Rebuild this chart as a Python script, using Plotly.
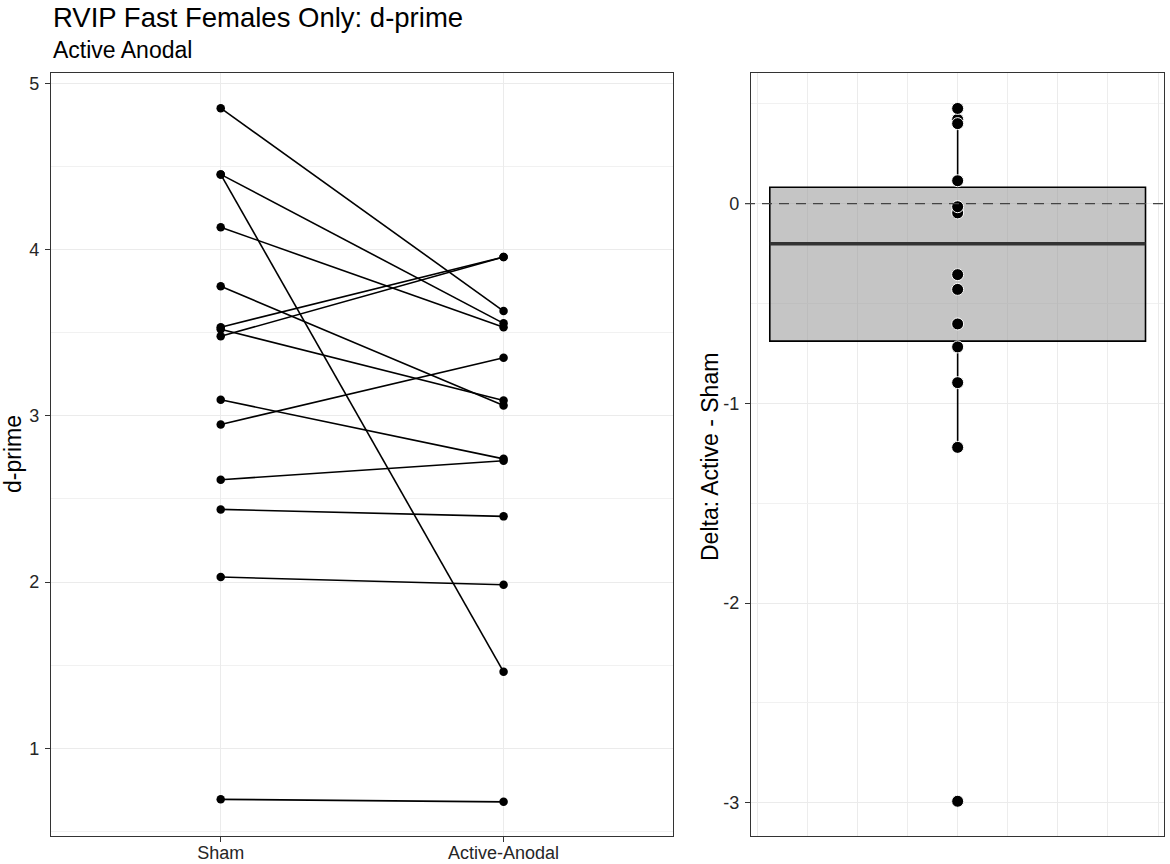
import numpy as np
import plotly.graph_objects as go
from plotly.subplots import make_subplots

# d-prime values, one entry per participant
conditions = ["Sham", "Active-Anodal"]
sham = [4.85, 4.452, 4.452, 4.134, 3.779, 3.533, 3.521, 3.478, 3.096, 2.948, 2.615, 2.437, 2.03, 0.693]
active = [3.63, 1.46, 3.556, 3.532, 3.062, 3.955, 3.092, 3.955, 2.741, 3.349, 2.73, 2.395, 1.984, 0.678]

# tick labels (plain hyphen minus, as in the original)
left_ticks = [1, 2, 3, 4, 5]
left_ticktext = ["1", "2", "3", "4", "5"]
right_ticks = [-3, -2, -1, 0]
right_ticktext = ["-3", "-2", "-1", "0"]

delta = np.array(active) - np.array(sham)

# box stats (ggplot style, type 7 quantiles)
q1, med, q3 = np.percentile(delta, [25, 50, 75])
iqr = q3 - q1
upper = delta[delta <= q3 + 1.5 * iqr].max()
lower = delta[delta >= q1 - 1.5 * iqr].min()
box_x = 1.0
box_w = 0.75

FONT = "Liberation Sans, Arial, sans-serif"
W, H = 1170, 864

fig = make_subplots(rows=1, cols=2)

# left panel: paired lines
for s, a in zip(sham, active):
    fig.add_trace(go.Scatter(x=conditions, y=[s, a], mode='lines+markers',
                             line=dict(color='black', width=1.6),
                             marker=dict(color='black', size=8.5),
                             showlegend=False, hoverinfo='y'), row=1, col=1)

# right panel: box of deltas
fig.add_trace(go.Box(x=[box_x], q1=[q1], median=[med], q3=[q3],
                     lowerfence=[lower], upperfence=[upper],
                     width=box_w, whiskerwidth=0, boxpoints=False,
                     fillcolor='rgba(150,150,150,0.55)',
                     line=dict(color='black', width=1.6),
                     showlegend=False), row=1, col=2)
# thicker median bar like ggplot
fig.add_trace(go.Scatter(x=[box_x - box_w / 2, box_x + box_w / 2], y=[med, med], mode='lines',
                         line=dict(color='#333333', width=3.5),
                         showlegend=False, hoverinfo='skip'), row=1, col=2)
fig.add_trace(go.Scatter(x=[box_x] * len(delta), y=delta, mode='markers',
                         marker=dict(color='black', size=12, line=dict(color='white', width=1)),
                         showlegend=False), row=1, col=2)


# domains from page pixels
def px_x(a, b):
    return [a / W, b / W]


def px_y(top, bottom):
    return [1 - bottom / H, 1 - top / H]


grid = '#EBEBEB'
axis_common = dict(showline=True, mirror=True, linecolor='#333333', linewidth=1.2,
                   zeroline=False, automargin=False, gridcolor=grid, gridwidth=1.2,
                   tickfont=dict(family=FONT, size=18, color='#262626'))

fig.update_xaxes(domain=px_x(51, 673.3), type='category', categoryorder='array',
                 categoryarray=conditions, range=[-0.6, 1.6],
                 ticks='outside', ticklen=5, tickcolor='#333333', showgrid=True,
                 ticklabelstandoff=-5,
                 **axis_common, row=1, col=1)
fig.update_yaxes(domain=px_y(73.3, 836), range=[0.4725, 5.06],
                 tickmode='array', tickvals=left_ticks, ticktext=left_ticktext,
                 ticks='outside', ticklen=5, tickcolor='#333333', showgrid=True,
                 ticklabelstandoff=2,
                 minor=dict(tick0=0.5, dtick=1, showgrid=True, gridcolor='#F1F1F1', gridwidth=0.9),
                 **axis_common, row=1, col=1)

fig.update_xaxes(domain=px_x(751, 1164.3), range=[0.5875, 1.4125], dtick=0.2, tick0=0,
                 showticklabels=False, ticks='', showgrid=True,
                 minor=dict(tick0=0.1, dtick=0.2, showgrid=True, gridcolor='#EDEDED', gridwidth=1.1),
                 **axis_common, row=1, col=2)
fig.update_yaxes(domain=px_y(73.3, 836), range=[-3.166, 0.653],
                 tickmode='array', tickvals=right_ticks, ticktext=right_ticktext,
                 ticks='outside', ticklen=5, tickcolor='#333333', showgrid=True,
                 ticklabelstandoff=2,
                 minor=dict(tick0=0.5, dtick=1, showgrid=True, gridcolor='#F1F1F1', gridwidth=0.9),
                 **axis_common, row=1, col=2)

# dashed reference line at zero (drawn past the panel edge like the original)
fig.add_shape(type='line', xref='paper', yref='y2', x0=745 / W, x1=1.0, y0=0, y1=0,
              line=dict(color='#444444', width=1.3, dash='10px,7px'), layer='above')

annots = [
    dict(text="RVIP Fast Females Only: d-prime", x=51 / W, y=1 - 17 / H,
         xanchor='left', yanchor='middle', font=dict(family=FONT, size=27.5, color='black')),
    dict(text="Active Anodal", x=51 / W, y=1 - 50 / H,
         xanchor='left', yanchor='middle', font=dict(family=FONT, size=23, color='black')),
    dict(text="d-prime", x=13 / W, y=1 - 454 / H, textangle=-90,
         xanchor='center', yanchor='middle', font=dict(family=FONT, size=23, color='black')),
    dict(text="Delta: Active - Sham", x=710 / W, y=1 - 457 / H, textangle=-90,
         xanchor='center', yanchor='middle', font=dict(family=FONT, size=23, color='black')),
]
for a in annots:
    fig.add_annotation(xref='paper', yref='paper', showarrow=False, **a)

fig.update_layout(width=W, height=H, margin=dict(l=0, r=0, t=0, b=0),
                  plot_bgcolor='white', paper_bgcolor='white', showlegend=False,
                  font=dict(family=FONT))

# drop the default 8px body margin so the figure fills the window
fig.write_html("out.html", config={'displayModeBar': False},
               post_script="document.body.style.margin='0px';")
